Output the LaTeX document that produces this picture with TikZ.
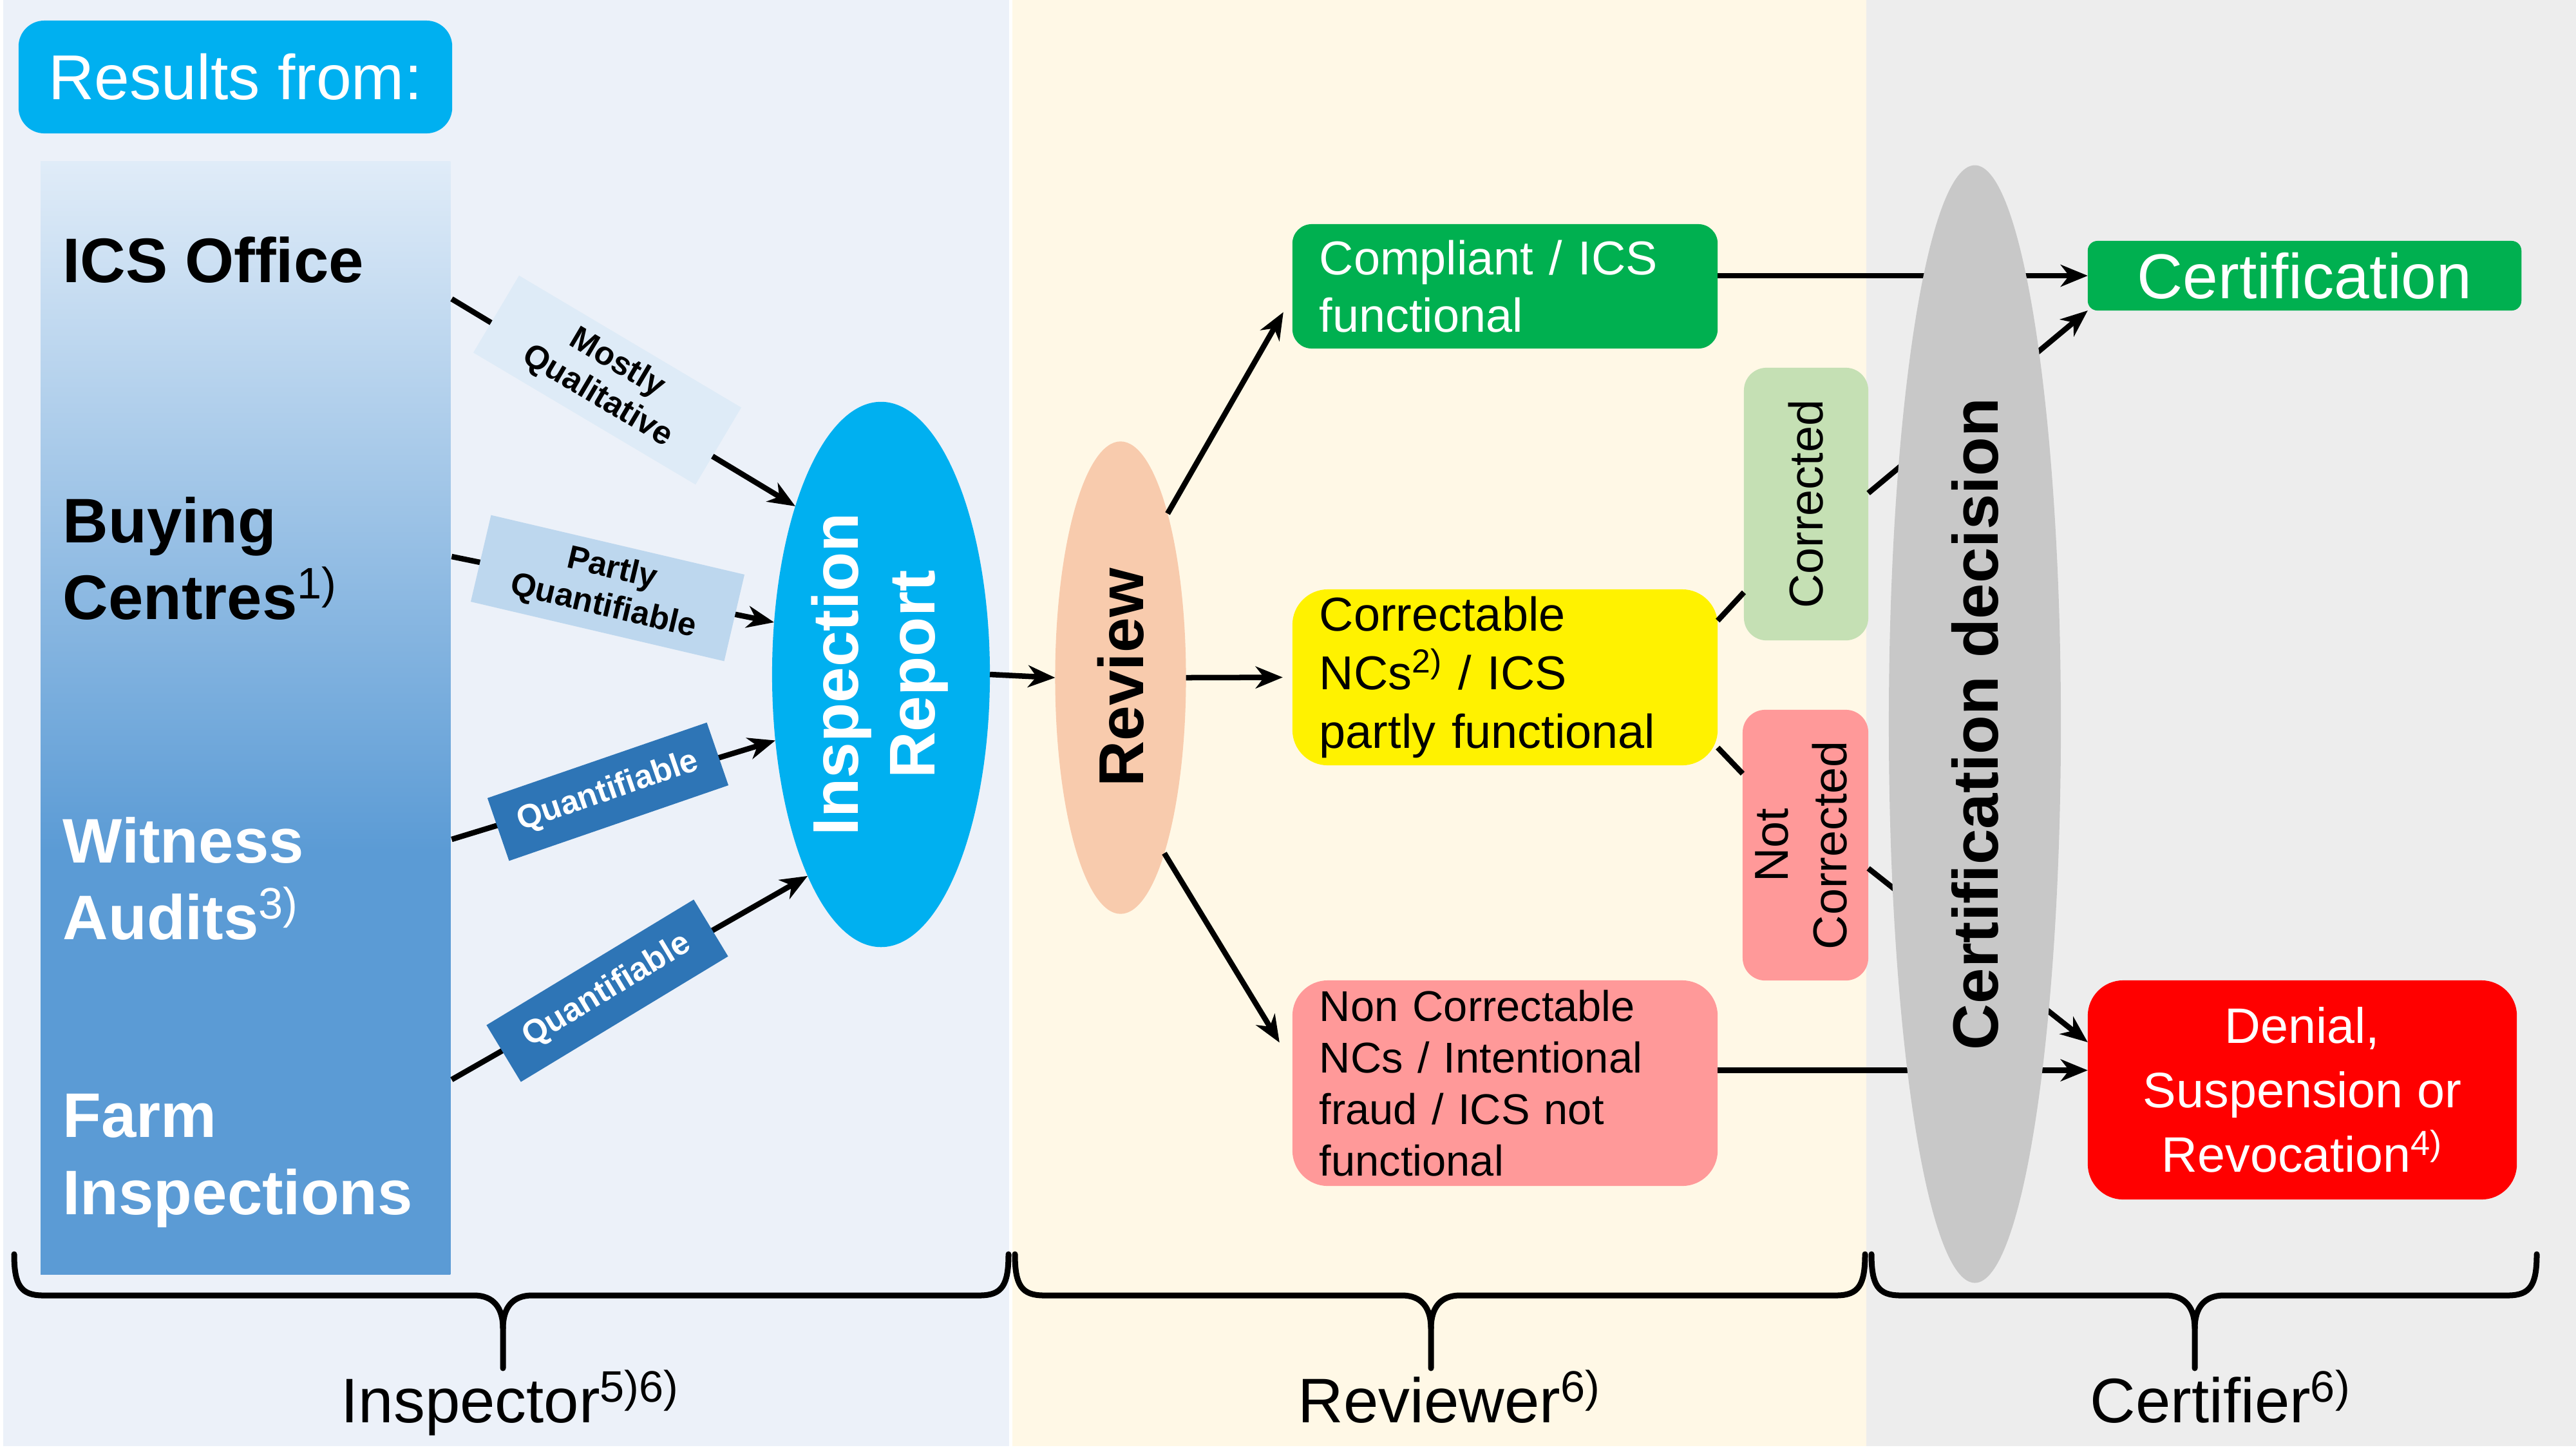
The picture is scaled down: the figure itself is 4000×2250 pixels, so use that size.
\documentclass[tikz,border=0pt]{standalone}
\usepackage{fontspec}
\setmainfont{Liberation Sans}
\usetikzlibrary{arrows.meta,shapes.geometric,calc}
\definecolor{zoneA}{RGB}{236,241,249}
\definecolor{zoneB}{RGB}{255,248,230}
\definecolor{zoneC}{RGB}{237,237,237}
\definecolor{cyanbox}{RGB}{0,176,240}
\definecolor{lblight}{RGB}{224,236,248}
\definecolor{lbdark}{RGB}{91,155,213}
\definecolor{tagA}{RGB}{222,235,247}
\definecolor{tagB}{RGB}{189,215,238}
\definecolor{tagC}{RGB}{46,117,182}
\definecolor{peach}{RGB}{248,203,173}
\definecolor{okgreen}{RGB}{0,176,80}
\definecolor{pinkred}{RGB}{255,153,153}
\definecolor{palegreen}{RGB}{197,224,180}
\definecolor{decgrey}{RGB}{200,200,200}
\pgfdeclareverticalshading{lbshade}{100bp}{color(0bp)=(lbdark); color(25bp)=(lbdark); color(44bp)=(lbdark); color(75bp)=(lblight); color(100bp)=(lblight)}
\newcommand{\bracepath}[3]{%
 \draw[bracestyle] (#1,1947) .. controls (#1,1995) and (#1+10,2011) .. (#1+45,2011) -- (#2-45,2011) .. controls (#2-15,2011) and (#2,2030) .. (#2,2062) -- (#2,2124);
 \draw[bracestyle] (#3,1947) .. controls (#3,1995) and (#3-10,2011) .. (#3-45,2011) -- (#2+45,2011) .. controls (#2+15,2011) and (#2,2030) .. (#2,2062);}
\begin{document}
\begin{tikzpicture}[x=0.01cm,y=-0.01cm,
  conn/.style={line width=0.085cm},
  arr/.style={conn,-{Stealth[length=0.42cm,width=0.34cm,inset=0.13cm]}},
  bracestyle/.style={line width=0.09cm,line cap=round,line join=round},
  tagbox/.style={rectangle,inner sep=0,outer sep=0,align=center,font=\fontsize{14.5}{17}\selectfont\bfseries},
  lbtext/.style={anchor=base west,inner sep=0,font=\fontsize{27.8}{33}\selectfont\bfseries},
  oval/.style={ellipse,inner sep=0,outer sep=0},
  rbox/.style={rectangle,inner sep=0,outer sep=0},
  footlabel/.style={anchor=base west,inner sep=0,font=\fontsize{27.8}{30}\selectfont}]
\useasboundingbox (0,0) rectangle (4000,2250);
\fill[white] (0,0) rectangle (4000,2250);
\fill[zoneA] (5,0) rectangle (1567,2245);
\fill[zoneB] (1572,0) rectangle (2898,2245);
\fill[zoneC] (2898,0) rectangle (4000,2245);

% braces and role labels
\bracepath{22}{781}{1566}
\bracepath{1576}{2222}{2896}
\bracepath{2906}{3408}{3939}
\node[footlabel] (linsp) at (529,2208) {Inspector\textsuperscript{5)6)}};
\node[footlabel] (lrev) at (2015,2208) {Reviewer\textsuperscript{6)}};
\node[footlabel] (lcert) at (3245,2208) {Certifier\textsuperscript{6)}};

% results header
\node[rbox,fill=cyanbox,rounded corners=0.4cm,minimum width=6.73cm,minimum height=1.75cm,text=white,font=\fontsize{28}{30}\selectfont] (res) at (365.5,119.5) {Results from:};

% left gradient box
\node[rbox,shading=lbshade,minimum width=6.36cm,minimum height=17.27cm,anchor=north west] (lb) at (63,250) {};
\node[lbtext] (t1) at (97,438) {ICS Office};
\node[lbtext] (t2a) at (97,842) {Buying};
\node[lbtext] (t2b) at (97,961) {Centres\textsuperscript{\mdseries 1)}};
\node[lbtext,text=white] (t3a) at (97,1339) {Witness};
\node[lbtext,text=white] (t3b) at (97,1458) {Audits\textsuperscript{\mdseries 3)}};
\node[lbtext,text=white] (t4a) at (97,1765) {Farm};
\node[lbtext,text=white] (t4b) at (97,1885) {Inspections};

% inspection report
\node[oval,fill=cyanbox,minimum width=3.12cm,minimum height=8.46cm,text=white,font=\fontsize{28.5}{34}\selectfont\bfseries] (ir) at (1368,1047) {\rotatebox{90}{\begin{tabular}{@{}c@{}}Inspection\\Report\end{tabular}}};

\draw[arr] ($(lb.north east)+(2,214)$) -- (ir.117);
\draw[arr] ($(lb.north east)+(2,614)$) -- (ir.154);
\draw[arr] ($(lb.north east)+(2,1053)$) -- (ir.212);
\draw[arr] ($(lb.north east)+(2,1426)$) -- (ir.250);

\node[tagbox,fill=tagA,rotate=-30.7,minimum width=4.01cm,minimum height=1.39cm] (q1) at (943,590) {Mostly\\Qualitative};
\node[tagbox,fill=tagB,rotate=-13.2,minimum width=4.04cm,minimum height=1.38cm] (q2) at (943.5,913) {Partly\\Quantifiable};
\node[tagbox,fill=tagC,text=white,rotate=19,minimum width=3.6cm,minimum height=1.03cm] (q3) at (944,1229) {Quantifiable};
\node[tagbox,fill=tagC,text=white,rotate=31.2,minimum width=3.76cm,minimum height=1.03cm] (q4) at (943,1538) {Quantifiable};

% review
\node[oval,fill=peach,minimum width=2.03cm,minimum height=7.33cm,font=\fontsize{28}{30}\selectfont\bfseries] (rv) at (1740,1052) {\rotatebox{90}{Review}};
\draw[arr] (ir.east) -- (rv.west);

\node[rbox,fill=okgreen,rounded corners=0.3cm,minimum width=6.6cm,minimum height=1.93cm,text width=5.76cm,inner xsep=0.42cm,align=left,text=white,font=\fontsize{21}{25.3}\selectfont] (cmp) at (2337,444.5) {Compliant / ICS\\functional};
\node[rbox,fill=yellow,rounded corners=0.55cm,minimum width=6.6cm,minimum height=2.73cm,text width=5.76cm,inner xsep=0.42cm,align=left,font=\fontsize{21}{25.9}\selectfont] (cor) at (2337,1051.5) {Correctable\\NCs\textsuperscript{2)} / ICS\\partly functional};
\node[rbox,fill=pinkred,rounded corners=0.55cm,minimum width=6.6cm,minimum height=3.19cm,text width=5.76cm,inner xsep=0.42cm,align=left,font=\fontsize{19}{22.8}\selectfont] (ncr) at (2337,1681.5) {Non Correctable\\NCs / Intentional\\fraud / ICS not\\functional};

\draw[arr] (rv.74) -- ($(cmp.west)+(-14,40)$);
\draw[arr] (rv.east) -- ($(cor.west)+(-15,0)$);
\draw[arr] (rv.284) -- ($(ncr.west)+(-20,-63)$);

\node[rbox,fill=palegreen,rounded corners=0.35cm,minimum width=1.93cm,minimum height=4.23cm,font=\fontsize{21}{26}\selectfont] (crd) at (2804.5,782.5) {\rotatebox{90}{Corrected}};
\node[rbox,fill=pinkred,rounded corners=0.35cm,minimum width=1.95cm,minimum height=4.2cm,font=\fontsize{21}{26}\selectfont] (ncd) at (2803.5,1312) {\rotatebox{90}{\begin{tabular}{@{}c@{}}Not\\Corrected\end{tabular}}};

% certifier
\node[rbox,fill=okgreen,rounded corners=0.15cm,minimum width=6.73cm,minimum height=1.08cm,text=white,font=\fontsize{28}{30}\selectfont] (cert) at (3578.5,428) {Certification};
\node[rbox,fill=red,rounded corners=0.55cm,minimum width=6.66cm,minimum height=3.4cm,align=center,text=white,font=\fontsize{22}{28.5}\selectfont] (den) at (3575,1692) {Denial,\\Suspension or\\Revocation\textsuperscript{4)}};

\coordinate (nce) at ($(ncr.east)+(0,-20)$);
\draw[arr] (cmp.east |- cert.west) -- (cert.west);
\draw[conn] ($(cor.east)+(0,-88)$) -- ($(crd.west)+(0,137)$);
\draw[arr] ($(crd.east)+(0,-17)$) -- (cert.south west);
\draw[conn] ($(cor.east)+(0,109)$) -- ($(ncd.west)+(0,-111)$);
\draw[arr] ($(ncd.east)+(0,36)$) -- ($(den.west)+(0,-74)$);
\draw[arr] (nce) -- (nce -| den.west);

\node[oval,fill=decgrey,minimum width=2.67cm,minimum height=17.34cm,font=\fontsize{28.3}{30}\selectfont\bfseries] (cd) at (3066.5,1124) {\rotatebox{90}{Certification decision}};
\end{tikzpicture}
\end{document}
